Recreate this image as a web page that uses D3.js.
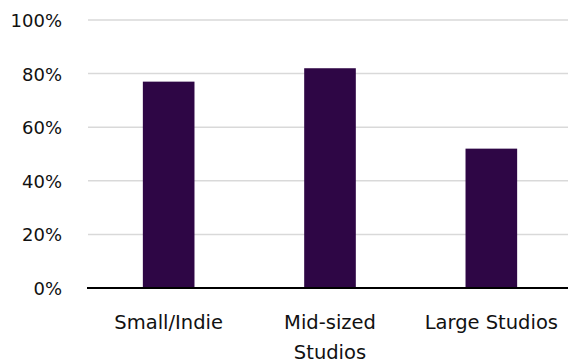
<!DOCTYPE html>
<html><head><meta charset="utf-8">
<script src="https://cdn.jsdelivr.net/npm/d3@7"></script>
<style>body{margin:0;background:#fff}svg{display:block}text{font-family:"DejaVu Sans",sans-serif;fill:#111}</style>
</head><body><svg id="c" width="568" height="364"></svg>
<script>
const categories = ["Small/Indie", "Mid-sized Studios", "Large Studios"];
const categoryLines = [["Small/Indie"], ["Mid-sized", "Studios"], ["Large Studios"]];
const values = [77, 82, 52];
const yTicks = [0, 20, 40, 60, 80, 100];

(function() {
const svg = d3.select("#c");
const mLeft = 88, mRight = 572, mTop = 20, mBottom = 288;
const x = d3.scaleBand().domain(categories).range([mLeft, mRight]).paddingInner(0.68).paddingOuter(0.34);
const y = d3.scaleLinear().domain([0, 100]).range([mBottom, mTop]);

svg.append("g").selectAll("line").data(yTicks.filter(d => d > 0)).join("line")
  .attr("x1", mLeft).attr("x2", 568)
  .attr("y1", d => y(d)).attr("y2", d => y(d))
  .attr("stroke", "#d9d9d9").attr("stroke-width", 1.5);

const yAxis = d3.axisLeft(y).tickValues(yTicks).tickFormat(d => d + "%").tickSize(0).tickPadding(0);
const gy = svg.append("g").attr("transform", "translate(62,0)").call(yAxis);
gy.select(".domain").remove();
gy.selectAll("text").attr("font-size", 18).attr("fill", "#111").attr("dy", "0.36em")
  .style("font-family", '"DejaVu Sans",sans-serif');

svg.append("g").selectAll("rect").data(values).join("rect")
  .attr("x", (d, i) => x(categories[i]))
  .attr("width", x.bandwidth())
  .attr("y", d => y(d))
  .attr("height", d => y(0) - y(d))
  .attr("fill", "#2e0645");

svg.append("line").attr("x1", mLeft - 1).attr("x2", 568).attr("y1", mBottom).attr("y2", mBottom)
  .attr("stroke", "#000").attr("stroke-width", 2);

const lab = svg.append("g").selectAll("text").data(categories).join("text")
  .attr("text-anchor", "middle").attr("font-size", 19.5)
  .attr("x", d => x(d) + x.bandwidth() / 2)
  .attr("y", 329);
lab.each(function(d, i) {
  d3.select(this).selectAll("tspan").data(categoryLines[i]).join("tspan")
    .attr("x", x(d) + x.bandwidth() / 2)
    .attr("dy", (t, j) => j === 0 ? 0 : 29.5)
    .text(t => t);
});
})();
</script></body></html>
